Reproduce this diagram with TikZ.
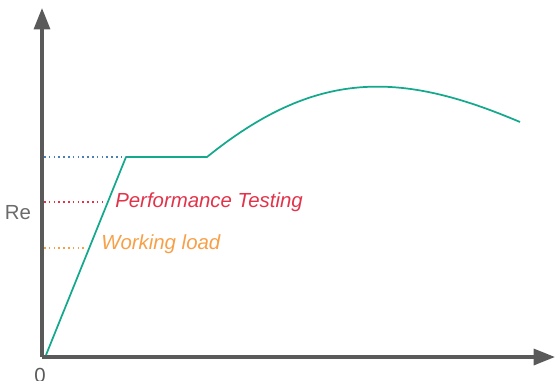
\documentclass[tikz,border=0pt]{standalone}
\usepackage{fontspec}
\setmainfont{Liberation Sans}
\usetikzlibrary{arrows.meta}
\definecolor{axisgray}{HTML}{5A5A5A}
\definecolor{curvegreen}{HTML}{14A88C}
\definecolor{testred}{HTML}{E2334A}
\definecolor{loadorange}{HTML}{F7A048}
\definecolor{yieldblue}{HTML}{4A7FB8}
\begin{document}
\begin{tikzpicture}[
        x=0.75pt, y=-0.75pt,
        axis/.style={draw=axisgray, line width=2.4pt, -{Triangle[length=16pt,width=12pt]}},
        curve/.style={draw=curvegreen, line width=1.3pt, line join=round},
        guide/.style={line width=1.2pt, dash pattern=on 1.2pt off 2.4pt},
        lbl/.style={inner sep=0pt, font=\fontsize{15.3}{18}\selectfont\itshape}
    ]
    \useasboundingbox (0,0) rectangle (555,380);

    % 坐标轴
    \coordinate (O) at (42,357);
    \coordinate (ytop) at (42,8);
    \coordinate (xend) at (555,357);
    \draw[axis] (O) -- (ytop);
    \draw[axis] (O) -- (xend);
    \node[inner sep=0pt, text=axisgray, font=\fontsize{15.3}{18}\selectfont] (zero) at (40,375) {0};
    \node[inner sep=0pt, text=axisgray!90, font=\fontsize{15.3}{18}\selectfont] (re) at (18,213) {Re};

    % 应力-应变曲线
    \coordinate (start) at (46,355);
    \coordinate (yieldA) at (126,157);
    \coordinate (yieldB) at (207,157);
    \coordinate (tail) at (520,122);
    \draw[curve] (start) -- (yieldA) -- (yieldB)
        .. controls (316,69) and (400,71) .. (tail);

    % 虚线与标注
    \coordinate (yb) at (44,157);
    \coordinate (rb) at (44,202);
    \coordinate (re2) at (106,202);
    \coordinate (ob) at (44,248);
    \coordinate (oe) at (84,248);
    \draw[guide, yieldblue] (yb) -- (yieldA);
    \draw[guide, testred] (rb) -- (re2);
    \draw[guide, loadorange] (ob) -- (oe);
    \node[lbl, text=testred, anchor=west] (perf) at (115,202) {Performance Testing};
    \node[lbl, text=loadorange, anchor=west] (work) at (101,244) {Working load};
\end{tikzpicture}
\end{document}
